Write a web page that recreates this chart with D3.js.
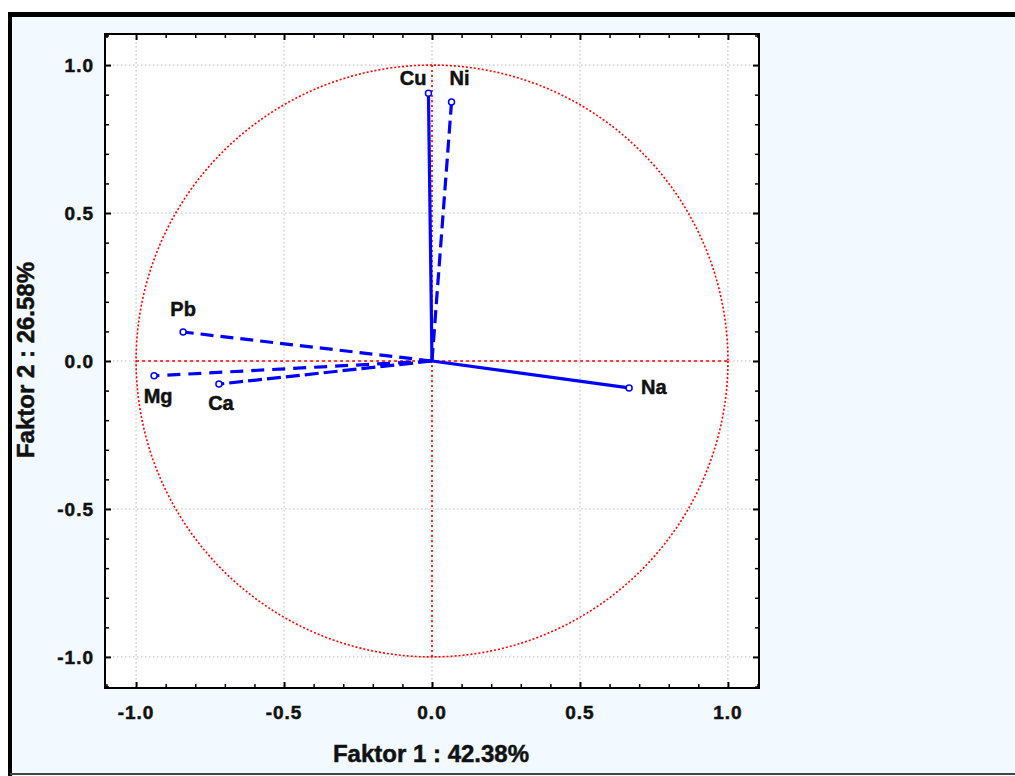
<!DOCTYPE html>
<html>
<head>
<script src="https://d3js.org/d3.v7.min.js"></script>
<style>
body { margin:0; background:#ffffff; }
text { font-family: "Liberation Sans", Arial, sans-serif; font-weight:bold; stroke:#111; stroke-width:0.5px; }
</style>
</head>
<body>
<svg id="chart" width="1015" height="776"></svg>
<script>
// factor loadings
const vars = ["Cu", "Ni", "Pb", "Mg", "Ca", "Na"];
const fac1 = [-0.012, 0.066, -0.841, -0.939, -0.72, 0.666];
const fac2 = [0.905, 0.875, 0.098, -0.05, -0.078, -0.091];
const tickVals = [-1.0, -0.5, 0.0, 0.5, 1.0];
const xTitle = "Faktor 1 : 42.38%";
const yTitle = "Faktor 2 : 26.58%";

const svg = d3.select("#chart");

// outer panel
svg.append("rect").attr("x",10).attr("y",14).attr("width",1005).attr("height",759).attr("fill","#f2faff");
svg.append("line").attr("x1",8).attr("x2",1015).attr("y1",14.5).attr("y2",14.5).attr("stroke","#000").attr("stroke-width",5);
svg.append("line").attr("x1",10).attr("x2",10).attr("y1",12).attr("y2",776).attr("stroke","#000").attr("stroke-width",4);
svg.append("line").attr("x1",10).attr("x2",1015).attr("y1",774).attr("y2",774).attr("stroke","#444").attr("stroke-width",2);

const pLeft = 105, pTop = 34, size = 654;
const x = d3.scaleLinear().domain([-1.105, 1.105]).range([pLeft, pLeft+size]);
const y = d3.scaleLinear().domain([-1.105, 1.105]).range([pTop+size, pTop]);

svg.append("rect").attr("x",pLeft).attr("y",pTop).attr("width",size).attr("height",size).attr("fill","#fff");

// gray dotted grid
const grid = svg.append("g");
grid.selectAll("line.gx").data(tickVals).join("line").attr("class","gx")
    .attr("x1",d=>x(d)).attr("x2",d=>x(d)).attr("y1",pTop).attr("y2",pTop+size)
    .attr("stroke","#b8b8b8").attr("stroke-width",1).attr("stroke-dasharray","1.5,2.5");
grid.selectAll("line.gy").data(tickVals).join("line").attr("class","gy")
    .attr("y1",d=>y(d)).attr("y2",d=>y(d)).attr("x1",pLeft).attr("x2",pLeft+size)
    .attr("stroke","#b8b8b8").attr("stroke-width",1).attr("stroke-dasharray","1.5,2.5");

// red unit circle + red zero lines
svg.append("circle").attr("cx",x(0)).attr("cy",y(0)).attr("r",x(1)-x(0))
   .attr("fill","none").attr("stroke","#ff0000").attr("stroke-width",1.6).attr("stroke-dasharray","2,2");
svg.append("line").attr("x1",x(-1)).attr("x2",x(1)).attr("y1",y(0)).attr("y2",y(0))
   .attr("stroke","#ff0000").attr("stroke-width",1.6).attr("stroke-dasharray","3,3");
svg.append("line").attr("x1",x(0)).attr("x2",x(0)).attr("y1",y(1)).attr("y2",y(-1))
   .attr("stroke","#ff0000").attr("stroke-width",1.6).attr("stroke-dasharray","2,3");

// axes with inner ticks on all four sides
const minor = d3.range(-11, 12).map(d=>d/10);
function ticksOn(axis, pos) {
  const g = svg.append("g").attr("transform", pos).call(axis.tickValues(minor).tickSize(4).tickFormat(""));
  g.select(".domain").remove();
  g.selectAll(".tick line").attr("stroke","#000").attr("stroke-width",1.5)
    .filter(d=>Math.abs(d*2 - Math.round(d*2)) < 1e-6).attr("stroke-width",2)
    .attr("x2", function(){return d3.select(this).attr("x2")*1.5;})
    .attr("y2", function(){return d3.select(this).attr("y2")*1.5;});
}
ticksOn(d3.axisTop(x), "translate(0,"+(pTop+size)+")");
ticksOn(d3.axisBottom(x), "translate(0,"+pTop+")");
ticksOn(d3.axisRight(y), "translate("+pLeft+",0)");
ticksOn(d3.axisLeft(y), "translate("+(pLeft+size)+",0)");

svg.append("rect").attr("x",pLeft).attr("y",pTop).attr("width",size).attr("height",size)
   .attr("fill","none").attr("stroke","#000").attr("stroke-width",2);

// tick labels
svg.selectAll("text.xt").data(tickVals).join("text").attr("class","xt")
   .attr("x",d=>x(d)).attr("y",719).attr("text-anchor","middle")
   .attr("font-size",19).attr("letter-spacing",1).attr("fill","#111")
   .text(d=>d3.format(".1f")(d).replace("−","-"));
svg.selectAll("text.yt").data(tickVals).join("text").attr("class","yt")
   .attr("x",94).attr("y",d=>y(d)+7).attr("text-anchor","end")
   .attr("font-size",19).attr("letter-spacing",1).attr("fill","#111")
   .text(d=>d3.format(".1f")(d).replace("−","-"));

// axis titles
svg.append("text").attr("x",431).attr("y",762).attr("text-anchor","middle")
   .attr("font-size",24).attr("fill","#111").text(xTitle);
svg.append("text").attr("transform","translate(34,360) rotate(-90)").attr("text-anchor","middle")
   .attr("font-size",24).attr("fill","#111").text(yTitle);

// loading vectors
const dashed = {Ni:"13,6", Pb:"13,7", Mg:"13,8", Ca:"14,5"};
const labelOff = {Cu:[-2,-8,"end"], Ni:[8,-17,"middle"], Pb:[0,-16,"middle"], Mg:[4,27,"middle"], Ca:[2,26,"middle"], Na:[12,6,"start"]};
const pts = vars.map((v,i)=>({name:v, f1:fac1[i], f2:fac2[i]}));

const layer = svg.append("g");
layer.selectAll("line.vec").data(pts).join("line").attr("class","vec")
   .attr("x1",x(0)).attr("y1",y(0)).attr("x2",d=>x(d.f1)).attr("y2",d=>y(d.f2))
   .attr("stroke","#0000ff").attr("stroke-width",3.2)
   .attr("stroke-dasharray",d=>dashed[d.name] || null);
layer.selectAll("circle.pt").data(pts).join("circle").attr("class","pt")
   .attr("cx",d=>x(d.f1)).attr("cy",d=>y(d.f2)).attr("r",3)
   .attr("fill","#fff").attr("stroke","#0000ff").attr("stroke-width",1.5);
layer.selectAll("text.lab").data(pts).join("text").attr("class","lab")
   .attr("x",d=>x(d.f1)+labelOff[d.name][0]).attr("y",d=>y(d.f2)+labelOff[d.name][1])
   .attr("text-anchor",d=>labelOff[d.name][2])
   .attr("font-size",20).attr("fill","#111").text(d=>d.name);
</script>
</body>
</html>
